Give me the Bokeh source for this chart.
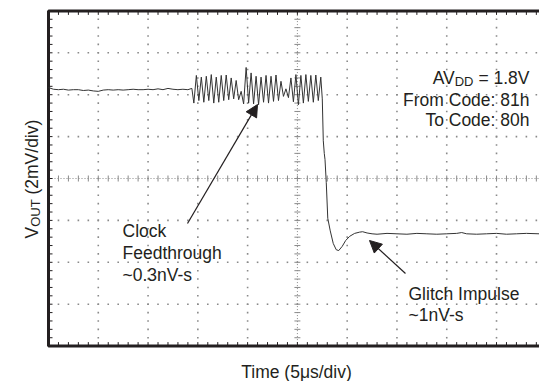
import numpy as np
from bokeh.plotting import figure
from bokeh.models import Range1d, Arrow, NormalHead
from bokeh.core.properties import value
from bokeh.embed import file_html
from bokeh.resources import INLINE

# ---------------- data (x: time in divisions of 5us, y: VOUT in divisions of 2mV) -------------
pre_t = [0.00, 0.10, 0.20, 0.30, 0.40, 0.50, 0.60, 0.70, 0.80, 0.90,
         1.00, 1.10, 1.20, 1.30, 1.40, 1.50, 1.60, 1.70, 1.80, 1.90,
         2.00, 2.10, 2.20, 2.30, 2.40, 2.50, 2.60, 2.70, 2.80, 2.88]
pre_v = [2.17, 2.13, 2.12, 2.13, 2.11, 2.12, 2.12, 2.10, 2.11, 2.09,
         2.08, 2.11, 2.12, 2.11, 2.12, 2.11, 2.12, 2.13, 2.12, 2.12,
         2.13, 2.12, 2.14, 2.12, 2.15, 2.13, 2.12, 2.13, 2.12, 2.15]

osc_t = [2.92, 2.97, 3.02, 3.07, 3.12, 3.17, 3.22, 3.27, 3.32, 3.37,
         3.42, 3.47, 3.52, 3.57, 3.62, 3.67, 3.72, 3.77, 3.82, 3.87,
         3.92, 3.97, 4.02, 4.07, 4.12, 4.17, 4.22, 4.27, 4.32, 4.37,
         4.42, 4.47, 4.52, 4.57, 4.62, 4.67, 4.72, 4.77, 4.82, 4.87,
         4.92, 4.97, 5.02, 5.07, 5.12, 5.17, 5.22, 5.27, 5.32, 5.37,
         5.42, 5.47]
osc_v = [1.80, 2.46, 1.86, 2.42, 1.82, 2.44, 1.86, 2.48, 1.80, 2.42,
         1.82, 2.46, 1.86, 2.47, 1.88, 2.40, 1.90, 2.34, 1.88, 2.08,
         1.78, 2.65, 1.80, 2.52, 1.78, 2.44, 1.76, 2.42, 1.82, 2.46,
         1.80, 2.44, 1.84, 2.47, 1.86, 2.32, 1.96, 2.14, 1.93, 2.40,
         1.83, 2.48, 1.76, 2.46, 1.80, 2.48, 1.84, 2.46, 1.82, 2.47,
         1.86, 2.42]

drop_t = [5.50, 5.52, 5.54, 5.555, 5.58, 5.61, 5.66, 5.72, 5.78, 5.83,
          5.90, 5.97, 6.05, 6.15, 6.25, 6.31, 6.40, 6.50]
drop_v = [1.90, 0.90, 0.60, 0.45, -0.10, -0.95, -1.25, -1.55, -1.70, -1.72,
          -1.62, -1.48, -1.38, -1.31, -1.28, -1.27, -1.30, -1.32]

post_t = [6.60, 6.80, 7.00, 7.20, 7.40, 7.60, 7.80, 8.00, 8.20, 8.30,
          8.40, 8.60, 8.80, 9.00, 9.20, 9.40, 9.60, 9.86]
post_v = [-1.33, -1.31, -1.32, -1.33, -1.31, -1.32, -1.33, -1.32, -1.31, -1.29,
          -1.32, -1.33, -1.32, -1.31, -1.33, -1.32, -1.31, -1.32]

NB = "\u00a0"
x_title = "Time (5\u03bcs/div)"
y_title_main, y_title_sub, y_title_rest = "V", "OUT", NB + "(2mV/div)"
cond_lines = ["From Code: 81h", "To Code: 80h"]
clock_lines = ["Clock", "Feedthrough", "~0.3nV-s"]
glitch_lines = ["Glitch Impulse", "~1nV-s"]

# ---------------- helpers: picture pixel -> data (divisions) ----------------
X0, DX = 48.0, 49.78
Y0, DY = 178.0, 41.9
def X(px): return (px - X0) / DX
def Y(py): return (Y0 - py) / DY

FONT = value("Liberation Sans")
INK = "#231f20"
GRID = "#8a8a8a"

p = figure(width=539, height=381, output_backend="svg", toolbar_location=None,
           x_range=Range1d(X(0), X(539)), y_range=Range1d(Y(381), Y(0)),
           min_border=0, title=None)
p.axis.visible = False
p.grid.visible = False
p.outline_line_color = None
p.background_fill_color = "white"
p.border_fill_color = "white"

XR = X(540)

# dotted grid (dots at minor subdivisions)
minor_y = np.arange(-4, 4.001, 0.2)
minor_x = np.arange(0, XR, 0.2)
gx, gy = [], []
for mx in [1, 2, 3, 4, 6, 7, 8, 9]:
    gx += [mx] * len(minor_y); gy += list(minor_y)
for my in [-3, -2, -1, 1, 2, 3]:
    gx += list(minor_x); gy += [my] * len(minor_x)
p.scatter(gx, gy, marker="square", size=1.6, color=GRID, line_color=None)

# centre cross: dense dotted lines with small tick marks
p.line([5, 5], [-4, 4], line_color=GRID, line_width=1, line_dash="1 2")
p.line([0, XR], [0, 0], line_color=GRID, line_width=1, line_dash="1 2")
tx = 3.0 / DX
ty = 3.0 / DY
p.segment(x0=[5 - tx] * len(minor_y), y0=list(minor_y), x1=[5 + tx] * len(minor_y), y1=list(minor_y),
          line_color=GRID, line_width=1)
p.segment(x0=list(minor_x), y0=[-ty] * len(minor_x), x1=list(minor_x), y1=[ty] * len(minor_x),
          line_color=GRID, line_width=1)

# frame ticks (inward)
ex = 4.0 / DX
ey = 4.0 / DY
p.segment(x0=[0] * len(minor_y), y0=list(minor_y), x1=[ex] * len(minor_y), y1=list(minor_y),
          line_color=INK, line_width=1)
p.segment(x0=list(minor_x), y0=[4] * len(minor_x), x1=list(minor_x), y1=[4 - ey] * len(minor_x),
          line_color=INK, line_width=1)
p.segment(x0=list(minor_x), y0=[-4] * len(minor_x), x1=list(minor_x), y1=[-4 + ey] * len(minor_x),
          line_color=INK, line_width=1)

# frame lines
p.line([XR, 0, 0, XR], [4, 4, -4, -4], line_color=INK, line_width=3)

# trace
t = pre_t + osc_t + drop_t + post_t
v = pre_v + osc_v + drop_v + post_v
p.line(t, v, line_color="#333333", line_width=1.0)

# annotations text
fs = "17.5px"
def txt(x, y, s, align="left", size=fs, angle=0.0):
    p.text(x=[x], y=[y], text=[s], text_font=FONT, text_font_size=size, text_color=INK,
           text_align=align, text_baseline="alphabetic", angle=angle)

# AVDD = 1.8V (right aligned at px 529)
txt(X(529), Y(77), NB + "=" + NB + "1.8V", align="right")
txt(X(529 - 56.0), Y(81), "DD", align="right", size="13px")
txt(X(529 - 56.0 - 18.8), Y(77), "AV", align="right")
txt(X(529), Y(99), cond_lines[0], align="right")
txt(X(529), Y(119), cond_lines[1], align="right")

for i, s in enumerate(clock_lines):
    txt(X(122), Y(230 + 22 * i), s)
for i, s in enumerate(glitch_lines):
    txt(X(408), Y(293 + 21 * i), s)

# axis titles
txt(X(296), Y(371), x_title, align="center")
ang = np.pi / 2
txt(X(31), Y(238), y_title_main, angle=ang)
txt(X(35), Y(238 - 11.7), y_title_sub, size="13px", angle=ang)
txt(X(31), Y(238 - 11.7 - 27.4), y_title_rest, angle=ang)

# arrows
p.add_layout(Arrow(end=NormalHead(size=12, fill_color=INK, line_color=INK),
                   x_start=X(187), y_start=Y(223), x_end=X(257), y_end=Y(104),
                   line_color=INK, line_width=1.2))
p.add_layout(Arrow(end=NormalHead(size=12, fill_color=INK, line_color=INK),
                   x_start=X(405), y_start=Y(273), x_end=X(369), y_end=Y(240),
                   line_color=INK, line_width=1.2))

open("out.html", "w").write(file_html(p, INLINE))
